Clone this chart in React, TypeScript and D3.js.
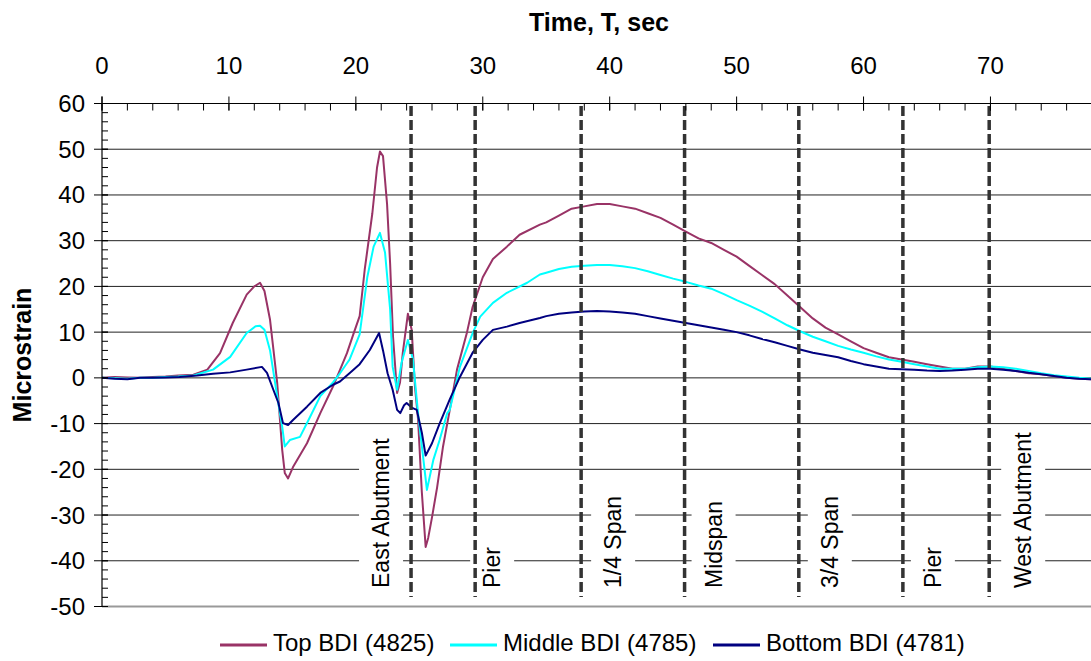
import React from "react";
import * as d3 from "d3";

// ---- data (time in sec, microstrain) ----
const topBDI: [number, number][] = [
  [0, 0], [1, 0.2], [2, 0.1], [3, 0], [4, 0.2], [5, 0.3], [6, 0.5], [7.2, 0.7], [8.3, 1.8], [9.3, 5.4],
  [10.3, 12], [11.4, 18.2], [12, 20], [12.45, 20.8], [12.8, 19], [13.24, 12.7], [13.8, -1], [14.2, -15.8],
  [14.4, -20.8], [14.66, -22], [15.05, -19.5], [16.15, -14.3], [17.2, -7.7], [18.2, -1.9], [19.3, 5.4],
  [19.8, 9.5], [20.3, 13.5], [20.7, 23.7], [21.3, 36], [21.67, 46], [21.9, 49.5], [22.14, 48.5],
  [22.46, 38], [22.7, 25], [22.93, 9], [23.25, -3.3], [23.48, -1], [23.7, 5.5], [24.1, 14], [24.4, 10.5],
  [24.66, -2], [24.9, -9], [25.2, -25], [25.5, -37], [25.7, -35], [26, -30.5], [26.4, -24], [26.87, -15],
  [27.4, -7], [27.97, 1.8], [28.76, 10], [29.2, 15.5], [30, 22], [30.8, 26], [31.9, 28.7], [32.9, 31.3],
  [34.5, 33.5], [35, 34], [36, 35.5], [37, 37], [38, 37.5], [39, 38], [40, 38], [41, 37.5], [42, 37],
  [43, 36], [44, 35], [45, 33.5], [46, 32], [47, 30.5], [48, 29.5], [49, 28], [50, 26.5], [51, 24.5],
  [52, 22.5], [53, 20.5], [54, 18], [55, 15.5], [56, 13], [57, 11], [58, 9.5], [59, 8], [60, 6.5],
  [61, 5.5], [62, 4.5], [63, 4], [64, 3.5], [65, 3], [66, 2.5], [67, 2], [68, 2], [69, 2.5], [70, 2.5],
  [71, 2], [72, 1.5], [73, 1], [74, 0.8], [75, 0.4], [76, 0], [77, -0.2], [78, -0.3],
];

const middleBDI: [number, number][] = [
  [0, 0], [1, -0.1], [2, -0.2], [3, 0], [4, 0], [5, 0.2], [6, 0.3], [7.2, 0.5], [8.75, 1.8], [10.1, 4.6],
  [11.4, 9.8], [12.1, 11.3], [12.45, 11.4], [12.8, 10.5], [13.24, 6], [13.8, -4], [14.2, -10.7], [14.4, -15],
  [14.8, -13.6], [15.6, -12.9], [16.4, -8.5], [17.2, -4], [18.2, -1], [18.75, 1], [19.3, 3.2], [19.5, 4],
  [20.3, 9.5], [20.9, 22], [21.4, 28.7], [21.9, 31.7], [22.3, 27.4], [22.7, 15], [22.9, 2.4], [23.25, -2.6],
  [23.6, 3.3], [24.1, 8.3], [24.5, 4], [24.9, -7.7], [25.6, -24.5], [26.1, -18], [26.6, -13.6], [27.2, -7.7],
  [27.4, -7], [28.2, 2.4], [29.2, 9.8], [29.8, 13.4], [30.8, 16.4], [31.9, 18.6], [33.5, 20.8], [34.5, 22.6],
  [35, 23], [36, 23.8], [37, 24.3], [38, 24.5], [39, 24.7], [40, 24.7], [41, 24.4], [42, 24], [43, 23.3],
  [44, 22.5], [45, 21.7], [46, 21], [47, 20.2], [48, 19.5], [49, 18.3], [50, 17], [51, 15.8], [52, 14.5],
  [53, 13], [54, 11.5], [55, 10.2], [56, 9], [57, 8], [58, 7], [59, 6.2], [60, 5.5], [61, 4.7], [62, 4],
  [63, 3.5], [64, 3], [65, 2.5], [66, 2], [67, 2], [68, 2], [69, 2.3], [70, 2.5], [71, 2.3], [72, 2],
  [73, 1.5], [74, 1], [75, 0.6], [76, 0.3], [77, 0], [78, -0.2],
];

const bottomBDI: [number, number][] = [
  [0, 0], [1, -0.2], [2, -0.3], [3, 0], [4, 0], [5, 0.1], [6.1, 0.2], [7.5, 0.5], [8.75, 0.9], [10.1, 1.2],
  [11.4, 1.8], [12.6, 2.4], [13, 1.1], [13.5, -2.6], [13.9, -5.5], [14.26, -9.9], [14.66, -10.3],
  [15.05, -9.2], [16.15, -6.3], [17.2, -3.3], [18.2, -1.5], [18.75, -0.8], [19.5, 1], [20.3, 3], [21.1, 6.1],
  [21.67, 9], [21.83, 9.8], [22.14, 6], [22.5, 1], [22.9, -2.6], [23.25, -7], [23.5, -7.7], [23.8, -6],
  [24, -5.5], [24.4, -6.5], [24.8, -7], [25.2, -12], [25.5, -17], [26, -14.3], [26.6, -10], [27.4, -4.7],
  [28.2, 0.2], [29.2, 5.5], [30, 8.3], [30.8, 10.5], [31.9, 11.2], [32.9, 12], [34.5, 13.1], [35, 13.5],
  [36, 14], [37, 14.3], [38, 14.5], [39, 14.6], [40, 14.5], [41, 14.3], [42, 14], [43, 13.5], [44, 13],
  [45, 12.5], [46, 12], [47, 11.5], [48, 11], [49, 10.5], [50, 10], [51, 9.3], [52, 8.5], [53, 7.8],
  [54, 7], [55, 6.2], [56, 5.5], [57, 5], [58, 4.5], [59, 3.7], [60, 3], [61, 2.5], [62, 2], [63, 1.9],
  [64, 1.8], [65, 1.6], [66, 1.5], [67, 1.6], [68, 1.8], [69, 2], [70, 2], [71, 1.8], [72, 1.5], [73, 1.1],
  [74, 0.8], [75, 0.4], [76, 0], [77, -0.2], [78, -0.3],
];

const seriesNames = ["Top BDI (4825)", "Middle BDI (4785)", "Bottom BDI (4781)"];
const seriesColors = ["#993366", "#00FFFF", "#000080"];

const xTicks = [0, 10, 20, 30, 40, 50, 60, 70];
const yTicks = [60, 50, 40, 30, 20, 10, 0, -10, -20, -30, -40, -50];

const markerTimes = [24.35, 29.4, 37.75, 45.9, 54.9, 63.1, 69.9];
const markerLabels = ["East Abutment", "Pier", "1/4 Span", "Midspan", "3/4 Span", "Pier", "West Abutment"];

const FONT = "'Liberation Sans', Arial, Helvetica, sans-serif";

export default function App() {
  const W = 1091;
  const H = 661;
  const x = d3.scaleLinear().domain([0, 78]).range([102, 1092]);
  const y = d3.scaleLinear().domain([-50, 60]).range([606.5, 103.5]);
  const line = d3
    .line<[number, number]>()
    .x((d) => x(d[0]))
    .y((d) => y(d[1]));
  const allSeries = [topBDI, middleBDI, bottomBDI];
  const labelOffsets = [-30, 17, 32, 29, 31, 30, 34];
  const labelFont = 23;
  const xMinor = d3.range(0, 79, 2);
  const yMinor = d3.range(-50, 61, 2);
  const legendX = [220, 450, 713];

  return (
    <svg
      width={W}
      height={H}
      style={{ position: "absolute", left: 0, top: 0, background: "#fff" }}
      fontFamily={FONT}
    >
      <rect x={0} y={0} width={W} height={H} fill="#fff" />
      {/* gridlines */}
      {yTicks
        .filter((v) => v !== 60 && v !== -50)
        .map((v) => (
          <line key={"g" + v} x1={x(0)} x2={x(78)} y1={y(v)} y2={y(v)} stroke="#222" strokeWidth={1} />
        ))}
      {/* bottom border */}
      <line x1={x(0)} x2={x(78)} y1={y(-50)} y2={y(-50)} stroke="#999" strokeWidth={2} />

      {/* label boxes */}
      {markerTimes.map((t, i) => {
        const cx = x(t) + labelOffsets[i];
        const approx = markerLabels[i].length * labelFont * 0.5;
        return (
          <rect
            key={"b" + i}
            x={cx - 22}
            y={588 - approx - 8}
            width={44}
            height={approx + 12}
            fill="#fff"
          />
        );
      })}

      {/* series */}
      {allSeries.map((s, i) => (
        <path key={"s" + i} d={line(s) || ""} fill="none" stroke={seriesColors[i]} strokeWidth={2} strokeLinejoin="round" />
      ))}

      {/* dashed markers */}
      {markerTimes.map((t, i) => (
        <line
          key={"m" + i}
          x1={x(t)}
          x2={x(t)}
          y1={106}
          y2={597}
          stroke="#333"
          strokeWidth={3.5}
          strokeDasharray="10,4"
        />
      ))}

      {/* marker labels */}
      {markerTimes.map((t, i) => {
        const cx = x(t) + labelOffsets[i];
        return (
          <text
            key={"l" + i}
            transform={`translate(${cx},588) rotate(-90)`}
            fontSize={labelFont}
            dominantBaseline="central"
            textAnchor="start"
            fill="#000"
          >
            {markerLabels[i]}
          </text>
        );
      })}

      {/* top axis */}
      <line x1={x(0)} x2={x(78)} y1={y(60)} y2={y(60)} stroke="#000" strokeWidth={1.2} />
      {xMinor.map((t) => (
        <line key={"xm" + t} x1={x(t)} x2={x(t)} y1={y(60)} y2={y(60) + 7} stroke="#000" strokeWidth={1} />
      ))}
      {xTicks.map((t) => (
        <g key={"xt" + t}>
          <line x1={x(t)} x2={x(t)} y1={y(60) - 7} y2={y(60) + 7} stroke="#000" strokeWidth={1} />
          <text x={x(t)} y={74} fontSize={24} textAnchor="middle" fill="#000">
            {t}
          </text>
        </g>
      ))}
      <text x={599} y={31} fontSize={25} fontWeight="bold" textAnchor="middle" fill="#000">
        Time, T, sec
      </text>

      {/* left axis */}
      <line x1={x(0)} x2={x(0)} y1={y(60) - 7} y2={y(-50)} stroke="#000" strokeWidth={1.2} />
      {yMinor.map((v) => (
        <line key={"ym" + v} x1={x(0)} x2={x(0) + 6} y1={y(v)} y2={y(v)} stroke="#000" strokeWidth={1} />
      ))}
      {yTicks.map((v) => (
        <g key={"yt" + v}>
          <line x1={x(0) - 8} x2={x(0) + 6} y1={y(v)} y2={y(v)} stroke="#000" strokeWidth={1} />
          <text x={85} y={y(v)} fontSize={24} textAnchor="end" dominantBaseline="central" fill="#000">
            {v}
          </text>
        </g>
      ))}
      <text
        transform={`translate(22,${(y(60) + y(-50)) / 2}) rotate(-90)`}
        fontSize={25}
        fontWeight="bold"
        textAnchor="middle"
        dominantBaseline="central"
        fill="#000"
      >
        Microstrain
      </text>

      {/* legend */}
      {seriesNames.map((n, i) => (
        <g key={"lg" + i}>
          <line x1={legendX[i]} x2={legendX[i] + 47} y1={645} y2={645} stroke={seriesColors[i]} strokeWidth={3} />
          <text x={legendX[i] + 53} y={642} fontSize={24} dominantBaseline="central" fill="#000">
            {n}
          </text>
        </g>
      ))}
    </svg>
  );
}
